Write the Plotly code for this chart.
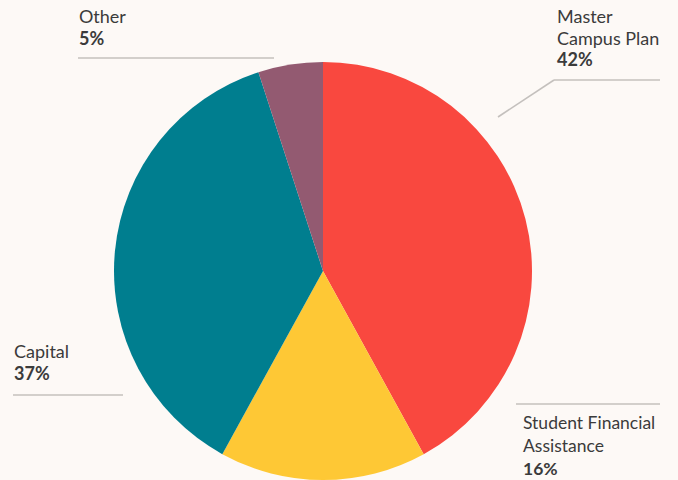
import plotly.graph_objects as go

categories = ["Master Campus Plan", "Student Financial Assistance", "Capital", "Other"]
values = [42, 16, 37, 5]
colors = ["#F9483F", "#FEC835", "#007E8F", "#935A71"]

W, H = 678, 480
BG = "#FDF9F6"
TXT = "#3b3b3b"
LINE = "#c4c0bd"

fig = go.Figure(go.Pie(
    labels=categories, values=values, sort=False, direction="clockwise", rotation=0,
    marker=dict(colors=colors, line=dict(width=0)),
    textinfo="none", hoverinfo="label+percent", showlegend=False,
    domain=dict(x=[(323 - 209) / W, (323 + 209) / W], y=[0, 418 / H]),
))

def px(x):
    return x / W

def py(y):
    return 1 - y / H

# label blocks: (x_left, [(y_center, text)])
blocks = [
    (78, [(16, "Other"), (38, "<b>5%</b>")]),
    (556, [(16, "Master"), (37.5, "Campus Plan"), (59, "<b>42%</b>")]),
    (13, [(351, "Capital"), (373, "<b>37%</b>")]),
]
ann = []
for x0, lines in blocks:
    for yc, t in lines:
        ann.append(dict(x=px(x0 - 1), y=py(yc), xref="paper", yref="paper", text=t,
                        showarrow=False, xanchor="left", yanchor="middle",
                        font=dict(family="Lato", size=18, color=TXT)))
ann.append(dict(x=px(522), y=0, xref="paper", yref="paper",
                text="Student Financial<br>Assistance<br><b>16%</b>", align="left",
                showarrow=False, xanchor="left", yanchor="bottom", borderpad=0,
                font=dict(family="Lato", size=17.5, color=TXT)))

segs = [
    [(78, 58), (274, 58)],
    [(498, 117), (554, 80), (660, 80)],
    [(13, 395), (123, 395)],
    [(516, 404), (660, 404)],
]
shapes = []
for seg in segs:
    for (xa, ya), (xb, yb) in zip(seg[:-1], seg[1:]):
        shapes.append(dict(type="line", xref="paper", yref="paper",
                           x0=px(xa), y0=py(ya), x1=px(xb), y1=py(yb),
                           line=dict(color=LINE, width=1.6)))

fig.update_layout(width=W, height=H, margin=dict(l=0, r=0, t=0, b=0),
                  paper_bgcolor=BG, plot_bgcolor=BG, annotations=ann, shapes=shapes)
fig.write_html("out.html", config={"displayModeBar": False},
               post_script="document.body.style.margin='0';document.body.style.background='" + BG + "';")
